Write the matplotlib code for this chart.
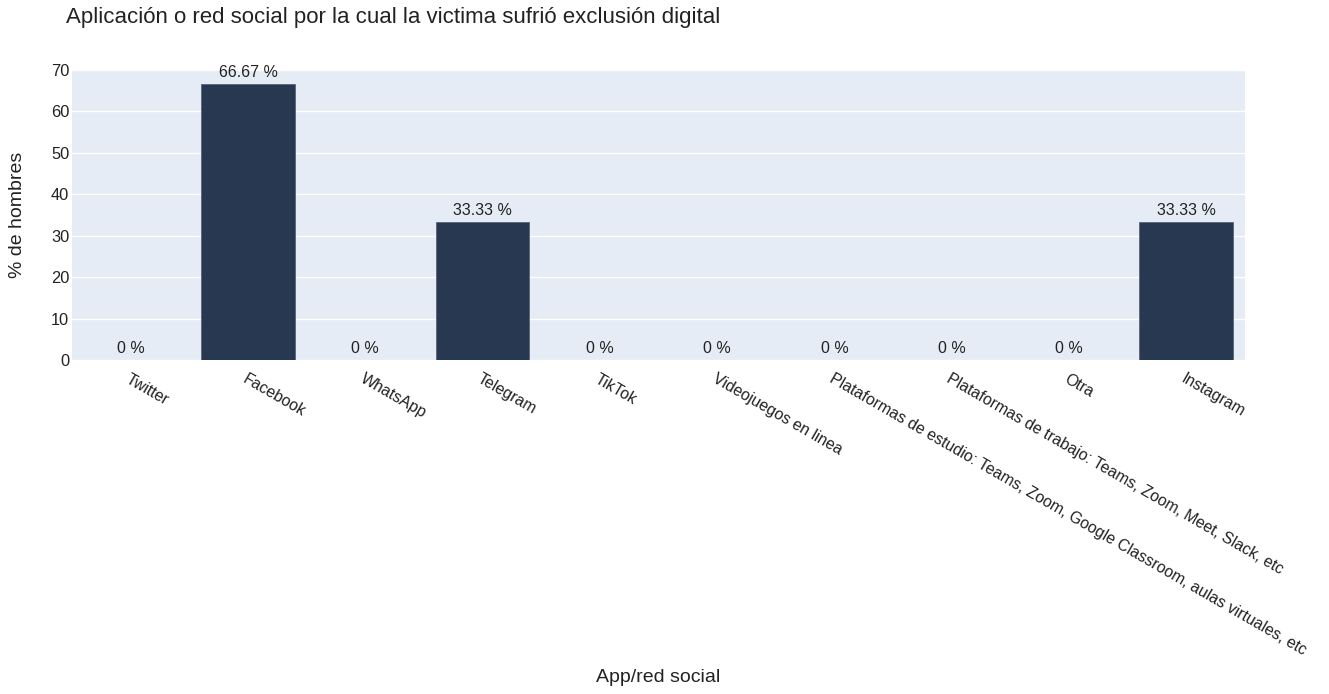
import matplotlib
matplotlib.use("Agg")
import matplotlib.pyplot as plt

categories = ["Twitter", "Facebook", "WhatsApp", "Telegram", "TikTok",
              "Videojuegos en linea",
              "Plataformas de estudio: Teams, Zoom, Google Classroom, aulas virtuales, etc",
              "Plataformas de trabajo: Teams, Zoom, Meet, Slack, etc",
              "Otra", "Instagram"]
values = [0, 66.67, 0, 33.33, 0, 0, 0, 0, 0, 33.33]
labels = ["0 %", "66.67 %", "0 %", "33.33 %", "0 %", "0 %", "0 %", "0 %", "0 %", "33.33 %"]

plt.rcParams['font.family'] = ['Liberation Sans', 'DejaVu Sans']

W, H = 1329, 694
fig = plt.figure(figsize=(W/100, H/100), dpi=100)
ax = fig.add_axes([72/W, (H-360)/H, (1245-72)/W, (360-70)/H])
ax.set_facecolor('#e5ecf6')
x = list(range(len(categories)))
ax.bar(x, values, width=0.8, color='#283850', edgecolor='#5a6478', linewidth=0.6, zorder=3)
for xi, v, lab in zip(x, values, labels):
    ax.text(xi, v + 1, lab, ha='center', va='bottom', fontsize=11.5, color='#222222', zorder=4)
ax.set_xlim(-0.5, len(categories) - 0.5)
ax.set_ylim(0, 70)
ax.set_yticks(range(0, 71, 10))
ax.grid(axis='y', color='white', linewidth=1, zorder=0)
ax.set_axisbelow(True)
for s in ax.spines.values():
    s.set_visible(False)
ax.tick_params(axis='both', length=0, labelsize=11.8, colors='#222222')
ax.tick_params(axis='y', pad=2)
ax.set_xticks(x)
ax.set_xticklabels(categories, rotation=-30, ha='left', va='top', rotation_mode='anchor',
                   fontsize=11.4)
ax.tick_params(axis='x', pad=8)
fig.text(66/W, 1 - 18/H, "Aplicación o red social por la cual la victima sufrió exclusión digital",
         fontsize=16, ha='left', va='center', color='#222222')
fig.text(658/W, 1 - 678/H, "App/red social", fontsize=14, ha='center', va='center', color='#222222')
fig.text(18/W, 1 - 215/H, "% de hombres", fontsize=14, ha='center', va='center', rotation=90, color='#222222')
fig.savefig("out.png", dpi=100)
